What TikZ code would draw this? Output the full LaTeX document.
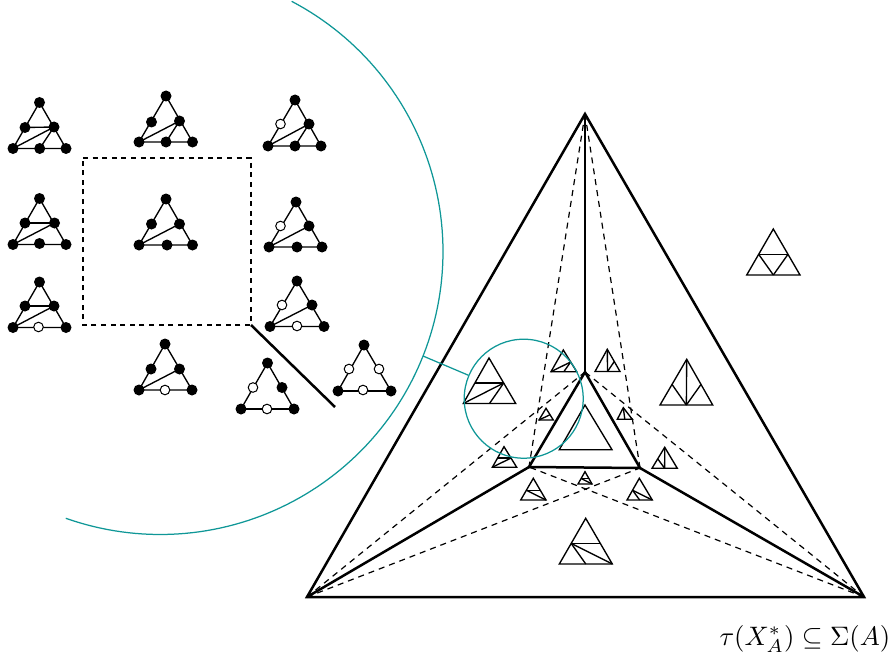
\documentclass[tikz,border=0pt]{standalone}
\usetikzlibrary{calc}
\definecolor{tealc}{HTML}{0F9797}
\tikzset{
  dotb/.style={circle,fill=black,inner sep=0pt,minimum size=11pt},
  dotw/.style={circle,draw=black,fill=white,line width=1pt,inner sep=0pt,minimum size=9.6pt},
  graphline/.style={line width=1.35pt,line join=round},
  smalltri/.style={line width=1.35pt,line join=miter},
  thickline/.style={line width=2.5pt,line join=miter},
  dashline/.style={line width=1.2pt,dash pattern=on 6pt off 5pt},
  boxline/.style={line width=1.15pt,dash pattern=on 5pt off 4.6pt},
  tealline/.style={draw=tealc,line width=1.25pt}
}
% name, top, left, right, mid-left, mid-right, bottom-mid, chords, styles of the three mid dots
\newcommand{\gtri}[9]{%
  \coordinate (#1-t) at #2; \coordinate (#1-l) at #3; \coordinate (#1-r) at #4;
  \coordinate (#1-ml) at #5; \coordinate (#1-mr) at #6; \coordinate (#1-bm) at #7;
  \draw[graphline] (#1-t) -- (#1-l) -- (#1-r) -- cycle;
  \foreach \a/\b in {#8} { \draw[graphline] (#1-\a) -- (#1-\b); }
  \node[dotb] (#1-T) at (#1-t) {};
  \node[dotb] (#1-L) at (#1-l) {};
  \node[dotb] (#1-R) at (#1-r) {};
  \foreach \a/\b/\c in {#9} {
    \node[\a] (#1-ML) at (#1-ml) {};
    \node[\b] (#1-MR) at (#1-mr) {};
    \node[\c] (#1-BM) at (#1-bm) {};
  }
}
% name, top, left, right, chords
\newcommand{\otri}[5]{%
  \coordinate (#1-t) at #2; \coordinate (#1-l) at #3; \coordinate (#1-r) at #4;
  \coordinate (#1-ml) at ($(#1-t)!0.55!(#1-l)$);
  \coordinate (#1-mr) at ($(#1-t)!0.55!(#1-r)$);
  \coordinate (#1-bm) at ($(#1-l)!0.5!(#1-r)$);
  \draw[smalltri] (#1-t) -- (#1-l) -- (#1-r) -- cycle;
  \foreach \a/\b in {#5} { \draw[smalltri] (#1-\a) -- (#1-\b); }
}
\begin{document}
\begin{tikzpicture}[x=1pt,y=-1pt]
\useasboundingbox (0,0) rectangle (891,658);

% large arc
\draw[tealline] plot[domain=-62.3:109.5,samples=120] ({160.2+282.8*cos(\x)},{251.7+282.8*sin(\x)});

% dashed square
\coordinate (b1) at (83,158); \coordinate (b2) at (251,158);
\coordinate (b3) at (251,325); \coordinate (b4) at (83,325);
\draw[boxline] (b1) -- (b2) -- (b3) -- (b4) -- cycle;
\coordinate (s2) at (335,407);
\draw[line width=2.5pt] (b3) -- (s2);

% flip graphs
\gtri{g1}{(39.5,102.5)}{(13,148.5)}{(66,148.5)}{(25,127.5)}{(54,127)}{(39.7,148.5)}{ml/mr,l/mr,mr/bm}{dotb/dotb/dotb}
\gtri{g2}{(166,96)}{(139,142)}{(192.5,142)}{(151.5,122)}{(179.5,121)}{(166,142)}{l/mr,mr/bm}{dotb/dotb/dotb}
\gtri{g3}{(295,100)}{(268,146)}{(321,146)}{(280.5,124)}{(309,124)}{(295,146)}{l/mr,mr/bm}{dotw/dotb/dotb}
\gtri{g4}{(39.5,198.5)}{(13,244.5)}{(66,244.5)}{(25,223)}{(54.5,223)}{(39.5,243.5)}{ml/mr,l/mr}{dotb/dotb/dotb}
\gtri{g5}{(166,199)}{(139,245)}{(192.5,245)}{(151.5,224)}{(179.5,224)}{(167,245)}{l/mr}{dotb/dotb/dotb}
\gtri{g6}{(296,202)}{(269,247)}{(322,247)}{(280.5,226)}{(309,226)}{(297,247)}{l/mr}{dotw/dotb/dotb}
\gtri{g7}{(39.5,282)}{(13,327.5)}{(66,327.5)}{(25,306)}{(54,306)}{(38.5,327)}{ml/mr,l/mr}{dotb/dotb/dotw}
\gtri{g8}{(165,344)}{(139,390)}{(192,390)}{(151,369)}{(179.5,369)}{(165,390)}{l/mr}{dotb/dotb/dotw}
\gtri{g9}{(297,281)}{(270,326.5)}{(324,326.5)}{(282,305)}{(312,305)}{(297,326)}{l/mr}{dotw/dotb/dotw}
\gtri{g10}{(267.5,363)}{(241,409)}{(294,409)}{(253,387.5)}{(282,387.5)}{(267,409)}{l/r}{dotw/dotb/dotw}
\gtri{g11}{(364,345)}{(338,391)}{(391,391)}{(349,369)}{(379,369)}{(363,390)}{l/r}{dotw/dotw/dotw}

% big triangle
\coordinate (A) at (585,114); \coordinate (B) at (307,597); \coordinate (C) at (864,597);
\coordinate (a) at (585,372); \coordinate (b) at (529,467); \coordinate (c) at (640,468);
\draw[dashline] (A) -- (b);
\draw[dashline] (A) -- (c);
\draw[dashline] (B) -- (a);
\draw[dashline] (B) -- (c);
\draw[dashline] (C) -- (a);
\draw[dashline] (C) -- (b);
\draw[thickline] (A) -- (B) -- (C) -- cycle;
\draw[thickline] (a) -- (b) -- (c) -- cycle;
\draw[thickline] (A) -- (a);
\draw[thickline] (B) -- (b);
\draw[thickline] (C) -- (c);

% small triangles in cells
\otri{t1}{(773.3,229)}{(746.7,275)}{(800,275)}{ml/mr,ml/bm,mr/bm}
\otri{t2}{(489,358)}{(463.3,403.5)}{(515.7,403.5)}{ml/mr,l/mr,mr/bm}
\otri{t3}{(563.3,350)}{(551,371.7)}{(576.7,371.7)}{l/mr,mr/bm}
\otri{t4}{(607.3,349.3)}{(595,371.5)}{(620,371.5)}{t/bm,mr/bm}
\otri{t5}{(686.7,359.3)}{(660,405)}{(712.7,405)}{t/bm,ml/bm,mr/bm}
\otri{t6}{(623.3,407.7)}{(617.3,419.3)}{(632.3,419.3)}{t/bm}
\otri{t7}{(664.7,447.3)}{(652,468.3)}{(677.3,468.3)}{t/bm,ml/bm}
\otri{t8}{(585,405)}{(559.3,449.7)}{(612,449.7)}{l/r}
\otri{t9}{(546,408.3)}{(539,420)}{(553.3,420)}{l/mr}
\otri{t10}{(504,446.7)}{(492.3,467.3)}{(516.7,467.3)}{ml/mr,l/mr}
\otri{t11}{(533.3,478.3)}{(520.7,500)}{(546,500)}{ml/mr,ml/r}
\otri{t12}{(585,471.7)}{(578,484)}{(592,484)}{ml/mr,ml/r}
\otri{t13}{(639.3,478.3)}{(627,500)}{(652.3,500)}{ml/r,ml/bm}
\otri{t14}{(585.7,518.3)}{(559.3,564)}{(612.3,564)}{ml/mr,ml/r,ml/bm}

% lens
\node[circle,tealline,minimum size=119pt,inner sep=0pt] (lens) at (523.7,398.7) {};
\coordinate (arcpt) at (423,356);
\draw[tealline] (arcpt) -- (lens);

\node[anchor=base west,scale=2.67,inner sep=0pt] (label) at (719,645) {$\tau(X_A^*)\subseteq\Sigma(A)$};
\end{tikzpicture}
\end{document}
